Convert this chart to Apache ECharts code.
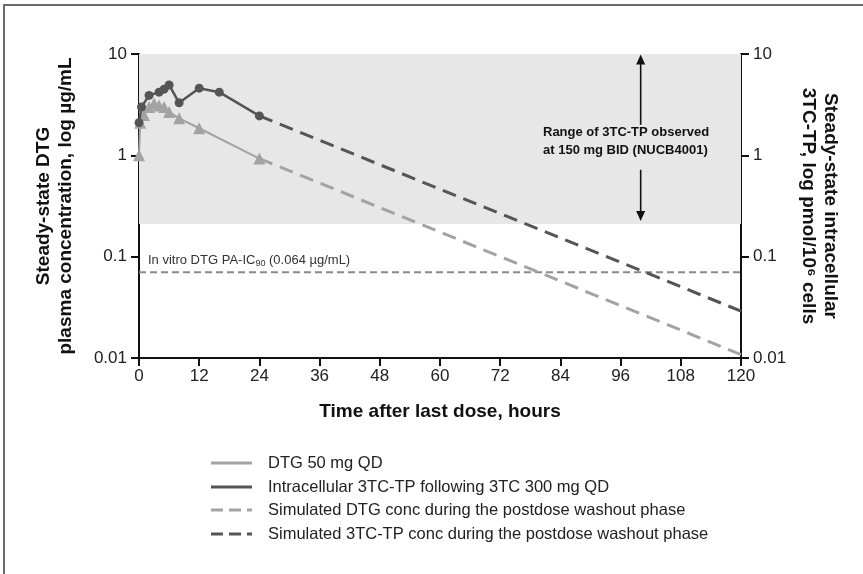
<!DOCTYPE html>
<html><head><meta charset="utf-8">
<script src="https://cdn.jsdelivr.net/npm/echarts@6/dist/echarts.min.js"></script>
<style>html,body{margin:0;padding:0;background:#fff}#c{width:863px;height:574px}</style>
</head><body><div id="c"></div>
<script>
// ---- data ----
const xTicks = [0, 12, 24, 36, 48, 60, 72, 84, 96, 108, 120];
const yTicks = [0.01, 0.1, 1, 10];
const dtgTime = [0, 0.25, 1, 2, 3, 4, 5, 6, 8, 12, 24];
const dtgConc = [1.0, 2.1, 2.5, 3.0, 3.25, 3.1, 3.0, 2.67, 2.32, 1.85, 0.93];
const tcTime = [0, 0.5, 2, 4, 5, 6, 8, 12, 16, 24];
const tcConc = [2.1, 3.0, 3.9, 4.2, 4.5, 4.95, 3.3, 4.6, 4.2, 2.45];
const washTime = [24, 120];
const dtgWash = [0.93, 0.0108];
const tcWash = [2.45, 0.029];
const ic90Drawn = 0.07;
const bandLow = 0.21, bandHigh = 10;
const arrowX = 100;
const arrowUp = [2.0, 9.9];
const arrowDown = [0.72, 0.225];
const legendLabels = ['DTG 50 mg QD', 'Intracellular 3TC-TP following 3TC 300 mg QD',
  'Simulated DTG conc during the postdose washout phase', 'Simulated 3TC-TP conc during the postdose washout phase'];

const F = '"Liberation Sans", Arial, sans-serif';
const LIGHT = '#a3a3a3', DARK = '#555555';
const zip = (a, b) => a.map((v, i) => [v, b[i]]);

const chart = echarts.init(document.getElementById('c'));
const yAxisBase = {
  type: 'log', logBase: 10, min: 0.01, max: 10,
  axisLine: { show: true, lineStyle: { color: '#111', width: 2 } },
  axisTick: { show: true, length: 8, lineStyle: { color: '#111', width: 2 } },
  minorTick: { show: false }, splitLine: { show: false },
  axisLabel: { fontSize: 17, color: '#222', fontFamily: F, margin: 12,
    formatter: v => String(+(+v).toPrecision(1)) },
  nameLocation: 'middle',
  nameTextStyle: { fontWeight: 'bold', fontSize: 19, color: '#111', fontFamily: F, lineHeight: 22, align: 'center' }
};
chart.setOption({
  animation: false,
  grid: { left: 139, right: 122, top: 54, bottom: 216 },
  xAxis: {
    type: 'value', min: 0, max: 120, interval: 12,
    axisLine: { lineStyle: { color: '#111', width: 2 } },
    axisTick: { length: 8, lineStyle: { color: '#111', width: 2 } },
    splitLine: { show: false },
    axisLabel: { fontSize: 17, color: '#222', fontFamily: F, margin: 10 },
    name: 'Time after last dose, hours', nameLocation: 'middle', nameGap: 44,
    nameTextStyle: { fontWeight: 'bold', fontSize: 19, color: '#111', fontFamily: F }
  },
  yAxis: [
    Object.assign({}, yAxisBase, { position: 'left', name: 'Steady-state DTG\nplasma concentration, log µg/mL', nameGap: 62, nameRotate: 90 }),
    Object.assign({}, yAxisBase, { position: 'right', name: 'Steady-state intracellular\n3TC-TP, log pmol/10⁶ cells', nameGap: 50, nameRotate: -90 })
  ],
  series: [
    {
      name: 'ref', type: 'line', yAxisIndex: 1, z: 1,
      data: [[0, ic90Drawn], [120, ic90Drawn]], symbol: 'none',
      lineStyle: { color: '#8a8a8a', width: 2, type: [7, 4] },
      markArea: { silent: true, itemStyle: { color: '#e7e7e7' },
        data: [[{ coord: [0, bandLow] }, { coord: [120, bandHigh] }]] }
    },
    { name: legendLabels[2], type: 'line', data: zip(washTime, dtgWash), symbol: 'none', z: 3,
      lineStyle: { color: LIGHT, width: 3, type: [14, 8] } },
    { name: legendLabels[3], type: 'line', yAxisIndex: 1, data: zip(washTime, tcWash), symbol: 'none', z: 3,
      lineStyle: { color: DARK, width: 3, type: [14, 8] } },
    { name: legendLabels[0], type: 'line', data: zip(dtgTime, dtgConc), symbol: 'triangle', symbolSize: 12, z: 4,
      lineStyle: { color: LIGHT, width: 2 }, itemStyle: { color: LIGHT } },
    { name: legendLabels[1], type: 'line', yAxisIndex: 1, data: zip(tcTime, tcConc), symbol: 'circle', symbolSize: 9, z: 5,
      lineStyle: { color: DARK, width: 2.5 }, itemStyle: { color: DARK } }
  ]
});

// annotations & legend
const P = v => chart.convertToPixel({ xAxisIndex: 0, yAxisIndex: 1 }, v);
const g = [];
g.push({ type: 'rect', shape: { x: 4, y: 5, width: 900, height: 620 }, style: { fill: 'none', stroke: '#6a6a6a', lineWidth: 2 }, silent: true, z: -10 });
const icPx = P([0, ic90Drawn]);
g.push({ type: 'text', x: icPx[0] + 9, y: icPx[1] - 4, z: 20,
  style: { text: '{a|In vitro DTG PA-IC}{s|90}{a| (0.064 µg/mL)}', textVerticalAlign: 'bottom', fontFamily: F,
    rich: { a: { fontSize: 13, fill: '#333', fontFamily: F }, s: { fontSize: 9, fill: '#333', fontFamily: F, padding: [7, 0, 0, 0] } } } });
const txPx = P([arrowX, 1.38]);
g.push({ type: 'text', x: 543, y: txPx[1], z: 20,
  style: { text: 'Range of 3TC-TP observed\nat 150 mg BID (NUCB4001)', fontFamily: F, fontWeight: 'bold', fontSize: 13,
    lineHeight: 18, fill: '#111', textVerticalAlign: 'middle' } });
function arrow(from, to) {
  const a = P([arrowX, from]), b = P([arrowX, to]);
  const dir = b[1] < a[1] ? -1 : 1;
  g.push({ type: 'line', z: 20, shape: { x1: a[0], y1: a[1], x2: b[0], y2: b[1] - dir * 8 }, style: { stroke: '#111', lineWidth: 1.6 } });
  g.push({ type: 'polygon', z: 20, shape: { points: [[b[0], b[1]], [b[0] - 4.5, b[1] - dir * 10], [b[0] + 4.5, b[1] - dir * 10]] }, style: { fill: '#111' } });
}
arrow(arrowUp[0], arrowUp[1]);
arrow(arrowDown[0], arrowDown[1]);
const legY = [463, 487, 510, 534];
const legStyle = [
  { stroke: LIGHT, lineWidth: 3 }, { stroke: DARK, lineWidth: 3 },
  { stroke: LIGHT, lineWidth: 3, lineDash: [12, 6] }, { stroke: DARK, lineWidth: 3, lineDash: [12, 6] }
];
legendLabels.forEach((t, i) => {
  g.push({ type: 'line', shape: { x1: 211, y1: legY[i], x2: 252, y2: legY[i] }, style: legStyle[i] });
  g.push({ type: 'text', x: 268, y: legY[i], style: { text: t, fontFamily: F, fontSize: 16.5, fill: '#222', textVerticalAlign: 'middle' } });
});
chart.setOption({ graphic: g });
</script></body></html>
